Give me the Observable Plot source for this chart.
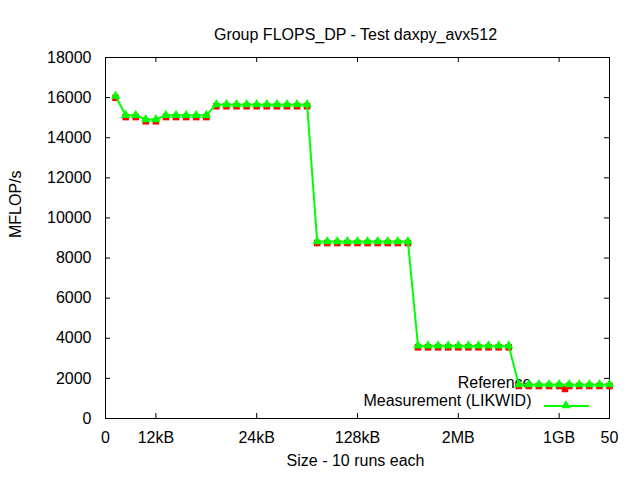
<!DOCTYPE html>
<html>
<head>
<meta charset="utf-8">
<script src="https://cdn.jsdelivr.net/npm/d3@7"></script>
<script src="https://cdn.jsdelivr.net/npm/@observablehq/plot@0.6"></script>
<style>
  body { margin: 0; background: #ffffff; }
  svg { display: block; }
</style>
</head>
<body>
<div id="chart"></div>
<script>
const chartTitle = "Group FLOPS_DP - Test daxpy_avx512";
const xAxisLabel = "Size - 10 runs each";
const yAxisLabel = "MFLOP/s";
const seriesNames = ["Reference", "Measurement (LIKWID)"];

const runIndex = [1, 2, 3, 4, 5, 6, 7, 8, 9, 10,
                  11, 12, 13, 14, 15, 16, 17, 18, 19, 20,
                  21, 22, 23, 24, 25, 26, 27, 28, 29, 30,
                  31, 32, 33, 34, 35, 36, 37, 38, 39, 40,
                  41, 42, 43, 44, 45, 46, 47, 48, 49, 50];

const measured = [16080, 15120, 15120, 14910, 14910, 15120, 15120, 15120, 15120, 15120,
                  15660, 15660, 15660, 15660, 15660, 15660, 15660, 15660, 15660, 15660,
                  8830, 8830, 8830, 8830, 8830, 8830, 8830, 8830, 8830, 8830,
                  3630, 3630, 3630, 3630, 3630, 3630, 3630, 3630, 3630, 3630,
                  1700, 1700, 1700, 1700, 1700, 1700, 1700, 1700, 1700, 1700];

const reference = [15990, 15030, 15030, 14820, 14820, 15030, 15030, 15030, 15030, 15030,
                   15570, 15570, 15570, 15570, 15570, 15570, 15570, 15570, 15570, 15570,
                   8750, 8750, 8750, 8750, 8750, 8750, 8750, 8750, 8750, 8750,
                   3550, 3550, 3550, 3550, 3550, 3550, 3550, 3550, 3550, 3550,
                   1620, 1620, 1620, 1620, 1620, 1620, 1620, 1620, 1620, 1620];

const xTickValues = [0, 5, 15, 25, 35, 45, 50];
const xTickLabels = ["0", "12kB", "24kB", "128kB", "2MB", "1GB", "50"];
const yTickValues = [0, 2000, 4000, 6000, 8000, 10000, 12000, 14000, 16000, 18000];

const measuredData = runIndex.map((x, i) => ({x, y: measured[i]}));
const referenceData = runIndex.map((x, i) => ({x, y: reference[i]}));

const GREEN = "#00ff00";
const RED = "#ff0000";
const FONT = "'Liberation Sans', Arial, sans-serif";
const FS = 16;

function legendKeys(index, scales, values, dim) {
  const g = d3.create("svg:g");
  const right = dim.width - dim.marginRight;
  const bottom = dim.height - dim.marginBottom;
  const yRef = bottom - 29;
  const yMeas = bottom - 12;
  g.append("line")
    .attr("x1", right - 65).attr("x2", right - 20)
    .attr("y1", yMeas).attr("y2", yMeas)
    .attr("stroke", GREEN).attr("stroke-width", 2);
  g.append("path")
    .attr("d", d3.symbol(d3.symbolTriangle, 38)())
    .attr("transform", `translate(${right - 43},${yMeas - 0.5})`)
    .attr("fill", GREEN);
  g.append("path")
    .attr("d", d3.symbol(d3.symbolSquare, 42)())
    .attr("transform", `translate(${right - 44},${yRef})`)
    .attr("fill", RED);
  return g.node();
}

const plot = Plot.plot({
  width: 640,
  height: 480,
  marginLeft: 105,
  marginRight: 31,
  marginTop: 57,
  marginBottom: 62,
  style: {fontFamily: FONT, fontSize: FS + "px", background: "#ffffff", color: "#000000"},
  x: {domain: [0, 50], label: null},
  y: {domain: [0, 18000], label: null},
  marks: [
    Plot.axisX(xTickValues, {
      tickSize: 0, tickPadding: 13, fill: "#000000",
      tickFormat: d => xTickLabels[xTickValues.indexOf(d)], label: null
    }),
    Plot.axisY(yTickValues, {
      tickSize: 0, tickPadding: 14, fill: "#000000",
      tickFormat: d => String(d), label: null
    }),
    // inward ticks on all four sides (gnuplot mirror style)
    Plot.tickX(xTickValues, {x: d => d, insetTop: 356, stroke: "#000000"}),
    Plot.tickX(xTickValues, {x: d => d, insetBottom: 356, stroke: "#000000"}),
    Plot.tickY(yTickValues, {y: d => d, insetRight: 499, stroke: "#000000"}),
    Plot.tickY(yTickValues, {y: d => d, insetLeft: 499, stroke: "#000000"}),
    Plot.frame({stroke: "#000000", strokeWidth: 1}),
    // titles
    Plot.text([chartTitle], {frameAnchor: "top", dx: -2, dy: -29, fontSize: FS, fill: "#000000"}),
    Plot.text([xAxisLabel], {frameAnchor: "bottom", dx: -2, dy: 47, fontSize: FS, fill: "#000000"}),
    Plot.text([yAxisLabel], {frameAnchor: "left", dx: -90, rotate: -90, fontSize: FS, fill: "#000000"}),
    // legend
    Plot.text([seriesNames[0]], {frameAnchor: "bottom-right", dx: -78, dy: -31, textAnchor: "end", fontSize: FS, fill: "#000000"}),
    Plot.text([seriesNames[1]], {frameAnchor: "bottom-right", dx: -78, dy: -13, textAnchor: "end", fontSize: FS, fill: "#000000"}),
    legendKeys,
    // data
    Plot.dot(referenceData, {x: "x", y: "y", symbol: "square", r: 3.7, fill: RED, stroke: "none"}),
    Plot.line(measuredData, {x: "x", y: "y", stroke: GREEN, strokeWidth: 2, curve: "linear"}),
    Plot.dot(measuredData, {x: "x", y: "y", symbol: "triangle", r: 3.5, fill: GREEN, stroke: "none"})
  ]
});

document.getElementById("chart").appendChild(plot);
</script>
</body>
</html>
